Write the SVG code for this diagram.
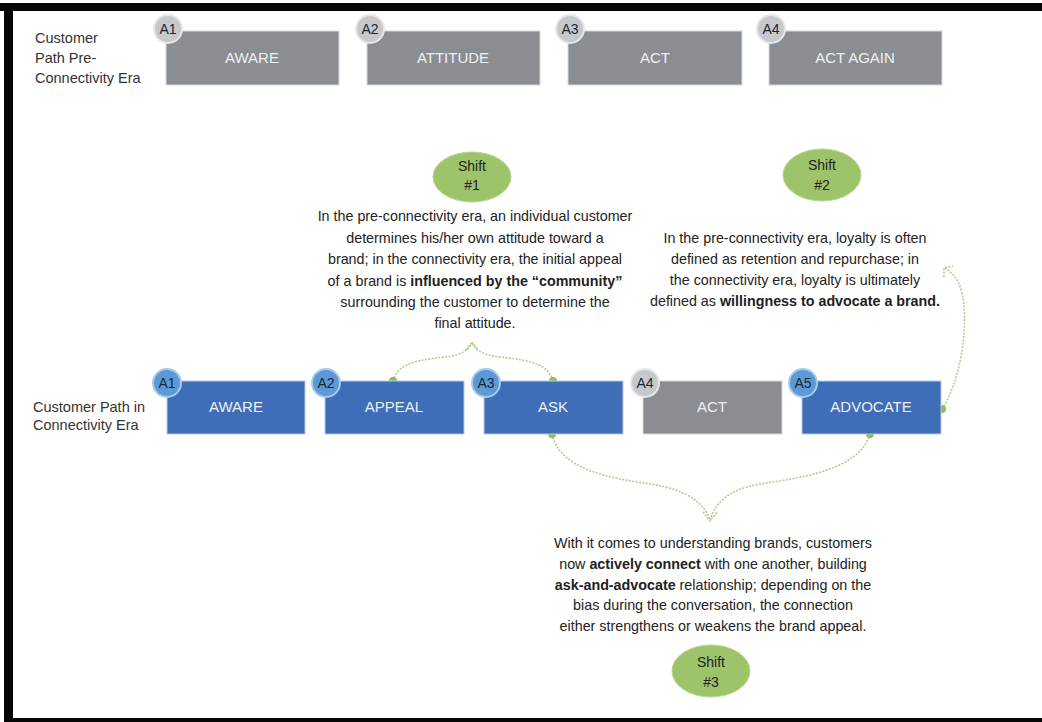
<svg xmlns="http://www.w3.org/2000/svg" width="1042" height="722" viewBox="0 0 1042 722">
<style>
  text { font-family: "Liberation Sans", Arial, sans-serif; }
  .lbl { font-size: 14.5px; fill: #333; }
  .box-g { fill: #8A8D92; stroke: #D9DADC; stroke-width: 1; }
  .box-b { fill: #3F6DB8; stroke: #B9CBE6; stroke-width: 1; }
  .btxt { font-size: 15px; fill: #EEF0F4; text-anchor: middle; }
  .bdg-g { fill: #C7C8CB; stroke: #E6E7E9; stroke-width: 2; }
  .bdg-b { fill: #5B9AD6; stroke: #A8CBEC; stroke-width: 2; }
  .bdgt { font-size: 14px; fill: #1E2630; text-anchor: middle; }
  .shift { fill: #9EC46B; stroke: #B9D58F; stroke-width: 1; }
  .stxt { font-size: 14px; fill: #222; text-anchor: middle; }
  .para { font-size: 14.3px; fill: #222; text-anchor: middle; }
  .b { font-weight: bold; }
  .con { fill: none; stroke: #B3CD8A; stroke-width: 1.6; stroke-dasharray: 2 1.4; }
  .dot { fill: #8DBF59; }
</style>

<!-- frame -->
<rect x="0" y="0" width="1042" height="722" fill="#fff"/>
<rect x="0" y="3" width="1042" height="8" fill="#050505"/>
<rect x="4" y="3" width="9" height="719" fill="#050505"/>
<rect x="4" y="718" width="1038" height="4" fill="#050505"/>

<!-- row labels -->
<g id="label-pre">
  <text class="lbl" x="35" y="43">Customer</text>
  <text class="lbl" x="35" y="63">Path Pre-</text>
  <text class="lbl" x="35" y="83">Connectivity Era</text>
</g>
<g id="label-conn">
  <text class="lbl" x="33" y="412">Customer Path in</text>
  <text class="lbl" x="33" y="430">Connectivity Era</text>
</g>

<!-- top row -->
<g id="pre-aware">
  <rect class="box-g" x="166" y="31" width="173" height="54"/>
  <text class="btxt" x="252" y="63">AWARE</text>
  <circle class="bdg-g" cx="168" cy="29" r="14"/>
  <text class="bdgt" x="168" y="34">A1</text>
</g>
<g id="pre-attitude">
  <rect class="box-g" x="367" y="31" width="173" height="54"/>
  <text class="btxt" x="453" y="63">ATTITUDE</text>
  <circle class="bdg-g" cx="370" cy="29" r="14"/>
  <text class="bdgt" x="370" y="34">A2</text>
</g>
<g id="pre-act">
  <rect class="box-g" x="568" y="31" width="174" height="54"/>
  <text class="btxt" x="655" y="63">ACT</text>
  <circle class="bdg-g" cx="570" cy="29" r="14"/>
  <text class="bdgt" x="570" y="34">A3</text>
</g>
<g id="pre-act-again">
  <rect class="box-g" x="769" y="31" width="173" height="54"/>
  <text class="btxt" x="855" y="63">ACT AGAIN</text>
  <circle class="bdg-g" cx="771" cy="29" r="14"/>
  <text class="bdgt" x="771" y="34">A4</text>
</g>

<!-- connectors -->
<g id="connectors">
  <path class="con" d="M393,381 C398,362 420,360 445,357 C462,355 468,350 472,343"/>
  <path class="con" d="M553,381 C548,362 525,360 500,357 C482,355 476,350 472,343"/>
  <path class="con" d="M466,350 L472,342 L478,350"/>
  <path class="con" d="M942,409 C958,385 967,340 964,305 C962,285 956,275 945,268"/>
  <path class="con" d="M944,277 L944,268 L953,266"/>
  <path class="con" d="M552,434 C560,470 610,478 650,484 C690,490 705,505 710,520"/>
  <path class="con" d="M870,434 C860,470 800,478 760,484 C725,490 715,505 710,520"/>
  <path class="con" d="M703,512 L710,521 L717,512"/>
  <circle class="dot" cx="393" cy="381" r="4"/>
  <circle class="dot" cx="553" cy="381" r="4"/>
  <circle class="dot" cx="942" cy="409" r="4"/>
  <circle class="dot" cx="552" cy="434" r="4"/>
  <circle class="dot" cx="870" cy="434" r="4"/>
</g>

<!-- bottom row -->
<g id="conn-aware">
  <rect class="box-b" x="167" y="381" width="138" height="53"/>
  <text class="btxt" x="236" y="412">AWARE</text>
  <circle class="bdg-b" cx="167" cy="383" r="14"/>
  <text class="bdgt" x="167" y="388">A1</text>
</g>
<g id="conn-appeal">
  <rect class="box-b" x="325" y="381" width="139" height="53"/>
  <text class="btxt" x="394" y="412">APPEAL</text>
  <circle class="bdg-b" cx="326" cy="383" r="14"/>
  <text class="bdgt" x="326" y="388">A2</text>
</g>
<g id="conn-ask">
  <rect class="box-b" x="484" y="381" width="139" height="53"/>
  <text class="btxt" x="553" y="412">ASK</text>
  <circle class="bdg-b" cx="486" cy="383" r="14"/>
  <text class="bdgt" x="486" y="388">A3</text>
</g>
<g id="conn-act">
  <rect class="box-g" x="643" y="381" width="139" height="53"/>
  <text class="btxt" x="712" y="412">ACT</text>
  <circle class="bdg-g" cx="645" cy="383" r="14"/>
  <text class="bdgt" x="645" y="388">A4</text>
</g>
<g id="conn-advocate">
  <rect class="box-b" x="802" y="381" width="139" height="53"/>
  <text class="btxt" x="871" y="412">ADVOCATE</text>
  <circle class="bdg-b" cx="803" cy="383" r="14"/>
  <text class="bdgt" x="803" y="388">A5</text>
</g>

<!-- shifts -->
<g id="shift-1">
  <ellipse class="shift" cx="472" cy="177" rx="39" ry="25"/>
  <text class="stxt" x="472" y="171">Shift</text>
  <text class="stxt" x="472" y="190">#1</text>
</g>
<g id="shift-2">
  <ellipse class="shift" cx="822" cy="175" rx="39" ry="26"/>
  <text class="stxt" x="822" y="170">Shift</text>
  <text class="stxt" x="822" y="190">#2</text>
</g>
<g id="shift-3">
  <ellipse class="shift" cx="711" cy="671" rx="39" ry="26"/>
  <text class="stxt" x="711" y="667">Shift</text>
  <text class="stxt" x="711" y="687">#3</text>
</g>

<!-- descriptions -->
<g id="text-shift-1">
  <text class="para" x="475" y="221">In the pre-connectivity era, an individual customer</text>
  <text class="para" x="475" y="243">determines his/her own attitude toward a</text>
  <text class="para" x="475" y="264">brand; in the connectivity era, the initial appeal</text>
  <text class="para" x="475" y="286">of a brand is <tspan class="b">influenced by the “community”</tspan></text>
  <text class="para" x="475" y="307">surrounding the customer to determine the</text>
  <text class="para" x="475" y="328">final attitude.</text>
</g>
<g id="text-shift-2">
  <text class="para" x="795" y="243">In the pre-connectivity era, loyalty is often</text>
  <text class="para" x="795" y="264">defined as retention and repurchase; in</text>
  <text class="para" x="795" y="285">the connectivity era, loyalty is ultimately</text>
  <text class="para" x="795" y="306">defined as <tspan class="b">willingness to advocate a brand.</tspan></text>
</g>
<g id="text-shift-3">
  <text class="para" x="713" y="548">With it comes to understanding brands, customers</text>
  <text class="para" x="713" y="569">now <tspan class="b">actively connect</tspan> with one another, building</text>
  <text class="para" x="713" y="590"><tspan class="b">ask-and-advocate</tspan> relationship; depending on the</text>
  <text class="para" x="713" y="610">bias during the conversation, the connection</text>
  <text class="para" x="713" y="631">either strengthens or weakens the brand appeal.</text>
</g>
</svg>
